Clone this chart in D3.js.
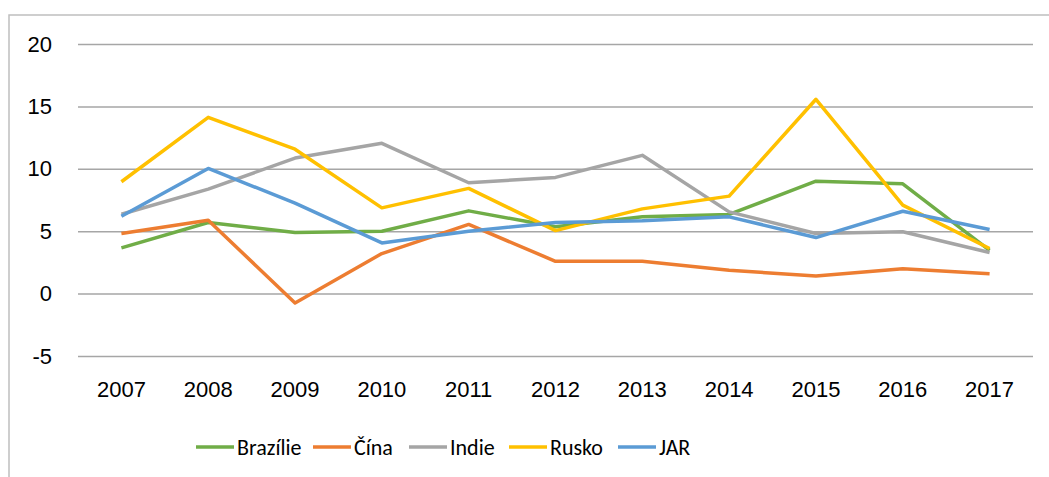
<!DOCTYPE html>
<html>
<head>
<meta charset="utf-8">
<script src="https://cdn.jsdelivr.net/npm/d3@7"></script>
<style>
  body { margin: 0; background: #fff; }
  svg { display: block; font-family: Carlito, Calibri, Lato, sans-serif; }
</style>
</head>
<body>
<div id="container"></div>
<script>
// Chart dimensions and margins
const width = 1049;
const height = 477;
const marginTop = 44;
const marginRight = 15;
const marginBottom = 121;
const marginLeft = 78;

// Data
const years = ["2007", "2008", "2009", "2010", "2011", "2012", "2013", "2014", "2015", "2016", "2017"];
const brazilie = [3.66, 5.7, 4.9, 5.0, 6.63, 5.35, 6.15, 6.34, 9.01, 8.8, 3.47];
const cina = [4.82, 5.88, -0.75, 3.21, 5.54, 2.59, 2.59, 1.87, 1.41, 2.0, 1.6];
const indie = [6.36, 8.37, 10.86, 12.04, 8.88, 9.31, 11.08, 6.55, 4.82, 4.95, 3.29];
const rusko = [8.96, 14.12, 11.57, 6.87, 8.43, 5.05, 6.79, 7.81, 15.57, 7.09, 3.61];
const jar = [6.2, 10.03, 7.25, 4.06, 5.0, 5.69, 5.83, 6.15, 4.49, 6.6, 5.14];
const yTicks = [-5, 0, 5, 10, 15, 20];

const series = [
  { name: "Brazílie", values: brazilie, color: "#70ad47" },
  { name: "Čína", values: cina, color: "#ed7d31" },
  { name: "Indie", values: indie, color: "#a5a5a5" },
  { name: "Rusko", values: rusko, color: "#ffc000" },
  { name: "JAR", values: jar, color: "#5b9bd5" }
];

const x = d3.scaleBand()
    .domain(years)
    .range([marginLeft, width - marginRight - 1]);

const y = d3.scaleLinear()
    .domain([-5, 20])
    .range([height - marginBottom, marginTop]);

const svg = d3.select("#container").append("svg")
    .attr("width", width)
    .attr("height", height)
    .attr("viewBox", [0, 0, width, height]);

// outer frame (only left and top edges are visible)
svg.append("rect")
    .attr("x", 9)
    .attr("y", 15)
    .attr("width", width + 20)
    .attr("height", height + 20)
    .attr("fill", "none")
    .attr("stroke", "#bfbfbf")
    .attr("stroke-width", 1.5);

// Y axis with gridlines
svg.append("g")
    .attr("transform", `translate(${marginLeft},0)`)
    .call(d3.axisLeft(y).tickValues(yTicks).tickFormat(d => String(d)).tickSize(0).tickPadding(26))
    .call(g => g.select(".domain").remove())
    .call(g => g.selectAll(".tick line").clone()
        .attr("x2", x.range()[1] - marginLeft)
        .attr("stroke", "#a6a6a6")
        .attr("stroke-width", 1.5))
    .call(g => g.selectAll(".tick text")
        .attr("fill", "#000")
        .style("font-size", "22px"));

// X axis labels
svg.append("g")
    .attr("transform", `translate(0,${y(-5)})`)
    .call(d3.axisBottom(x).tickSize(0).tickPadding(25))
    .call(g => g.select(".domain").remove())
    .call(g => g.selectAll(".tick text")
        .attr("fill", "#000")
        .style("font-size", "22px"));

const line = d3.line()
    .x((d, i) => x(years[i]) + x.bandwidth() / 2)
    .y(d => y(d));

series.forEach(s => {
    svg.append("path")
        .datum(s.values)
        .attr("fill", "none")
        .attr("stroke", s.color)
        .attr("stroke-width", 3.5)
        .attr("stroke-linejoin", "round")
        .attr("d", line);
});

// Legend
const legendX = [196, 313, 409, 509, 618];
const legend = svg.append("g")
    .attr("transform", "translate(0,447)");

series.forEach((s, i) => {
    const row = legend.append("g")
        .attr("transform", `translate(${legendX[i]},0)`);
    row.append("line")
        .attr("x1", 0)
        .attr("x2", 38)
        .attr("stroke", s.color)
        .attr("stroke-width", 3.5);
    row.append("text")
        .attr("x", 41)
        .attr("dy", "0.35em")
        .attr("fill", "#000")
        .style("font-size", "22px")
        .text(s.name);
});
</script>
</body>
</html>
